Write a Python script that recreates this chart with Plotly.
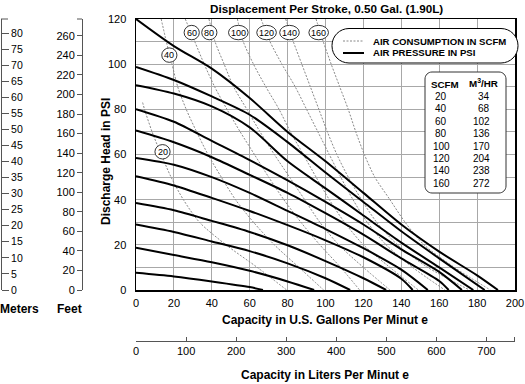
import plotly.graph_objects as go

# ---------------- data ----------------
# Air pressure curves (solid): capacity (US GPM) vs discharge head (PSI)
p10_gpm = [0, 20, 40, 60, 67]
p10_psi = [7.6, 6.0, 3.8, 1.3, 0]
p20_gpm = [0, 20, 40, 60, 80, 94]
p20_psi = [18.7, 15.5, 12.3, 8.5, 3.8, 0]
p30_gpm = [0, 20, 40, 60, 80, 100, 113]
p30_psi = [29, 25.7, 21.5, 17.2, 11.8, 5.2, 0]
p40_gpm = [0, 20, 40, 60, 80, 100, 120, 132]
p40_psi = [38.5, 35.3, 30.6, 25.7, 19.8, 12.8, 5.2, 0]
p50_gpm = [0, 20, 40, 60, 80, 100, 120, 140, 146]
p50_psi = [50.4, 46.3, 40.8, 35, 28.7, 22, 14.5, 5, 0]
p60_gpm = [0, 20, 40, 60, 80, 100, 120, 140, 154]
p60_psi = [58.5, 55.5, 50, 43, 35, 27, 18.5, 9, 0]
p70_gpm = [0, 20, 40, 60, 80, 100, 120, 140, 160, 165]
p70_psi = [70.6, 65.4, 58.8, 51, 43, 34, 24.5, 14, 4, 0]
p80_gpm = [0, 20, 40, 60, 80, 100, 120, 140, 160, 172]
p80_psi = [80.1, 74.5, 66, 57.5, 48.5, 39, 29, 18, 8, 0]
p90_gpm = [0, 20, 40, 60, 80, 100, 120, 140, 160, 178]
p90_psi = [90.7, 87, 81.3, 72, 57, 45, 33, 21, 10, 0]
p100_gpm = [0, 20, 40, 60, 80, 100, 120, 140, 160, 184]
p100_psi = [98.8, 93, 85.7, 77.6, 65.5, 52, 39, 26, 14, 0]
p120_gpm = [0, 20, 40, 60, 80, 100, 120, 140, 160, 180, 191]
p120_psi = [120, 108, 98, 85, 70, 57, 43, 29, 17, 6.5, 0]

pressure_curves = [
    (p10_gpm, p10_psi), (p20_gpm, p20_psi), (p30_gpm, p30_psi), (p40_gpm, p40_psi),
    (p50_gpm, p50_psi), (p60_gpm, p60_psi), (p70_gpm, p70_psi), (p80_gpm, p80_psi),
    (p90_gpm, p90_psi), (p100_gpm, p100_psi), (p120_gpm, p120_psi),
]

# Air consumption curves (dotted): SCFM
air_psi = [120, 110, 100, 90, 80, 70, 60, 50, 40, 30, 20, 10, 0]
s20_psi = [83, 80, 70, 60, 50, 40, 30, 20, 10, 0]
s20_gpm = [3.5, 4.5, 8.5, 13.3, 18.5, 25, 33.5, 47.5, 64, 79.5]
s40_gpm = [13.3, 16, 19, 22, 26.5, 32, 38, 45, 52.5, 62, 73, 86, 99]
s60_gpm = [26, 31, 36, 41.5, 48, 55, 62.5, 70, 78, 87, 97, 108, 118]
s80_gpm = [38.5, 41.7, 46.5, 51.5, 58.5, 65.5, 73, 81, 89, 97, 107, 120, 134]
s100_gpm = [53.5, 56.6, 62, 68.5, 75.5, 81.5, 88.3, 95, 102, 110, 120, 134, 149]
s120_gpm = [66, 70.7, 77, 84, 90, 96, 102, 108, 114.5, 122, 132, 146, 163]
s140_gpm = [79, 83, 87.5, 92, 96.5, 101, 106, 112, 119, 127, 138, 154, 176]
s160_gpm = [95, 98.8, 103, 107.5, 112, 116, 120.5, 126, 134, 142, 152, 168, 187]

air_curves = [
    (s20_gpm, s20_psi), (s40_gpm, air_psi), (s60_gpm, air_psi), (s80_gpm, air_psi),
    (s100_gpm, air_psi), (s120_gpm, air_psi), (s140_gpm, air_psi), (s160_gpm, air_psi),
]

# labels on the SCFM curves (text, gpm, psi)
scfm_labels = ["20", "40", "60", "80", "100", "120", "140", "160"]
scfm_label_gpm = [14.0, 17.6, 29.4, 38.7, 54.0, 68.9, 81.0, 96.4]
scfm_label_psi = [61.2, 104.0, 114.0, 114.0, 114.0, 114.0, 114.0, 114.0]

# conversion table
table_scfm = ["20", "40", "60", "80", "100", "120", "140", "160"]
table_m3hr = ["34", "68", "102", "136", "170", "204", "238", "272"]

x_ticks = [0, 20, 40, 60, 80, 100, 120, 140, 160, 180, 200]
y_ticks = [0, 20, 40, 60, 80, 100, 120]
liter_ticks = [0, 100, 200, 300, 400, 500, 600, 700]
feet_ticks = list(range(0, 261, 20))
meter_ticks = list(range(0, 81, 5))

GPM_MAX = 200
PSI_MAX = 120
L_PER_GAL = 3.785
FT_PER_PSI = 2.31
M_PER_PSI = 0.703

# ---------------- layout geometry (pixels) ----------------
W, H = 525, 384
PAPER_L, PAPER_R, PAPER_T, PAPER_B = 1, 515, 19, 341
PLOT_L, PLOT_B = 136, 290


def px(x):
    return (x - PAPER_L) / (PAPER_R - PAPER_L)


def py(y):
    return (PAPER_B - y) / (PAPER_B - PAPER_T)


def gx(g):  # gpm -> pixel
    return PLOT_L + g / GPM_MAX * (PAPER_R - PLOT_L)


def gy(p):  # psi -> pixel
    return PLOT_B - p / PSI_MAX * (PLOT_B - PAPER_T)


def rrect(x0, y0, x1, y1, r):
    k = 0.5523 * r
    s = f"M{px(x0 + r)},{py(y0)} L{px(x1 - r)},{py(y0)} "
    s += f"C{px(x1 - r + k)},{py(y0)} {px(x1)},{py(y0 + r - k)} {px(x1)},{py(y0 + r)} "
    s += f"L{px(x1)},{py(y1 - r)} "
    s += f"C{px(x1)},{py(y1 - r + k)} {px(x1 - r + k)},{py(y1)} {px(x1 - r)},{py(y1)} "
    s += f"L{px(x0 + r)},{py(y1)} "
    s += f"C{px(x0 + r - k)},{py(y1)} {px(x0)},{py(y1 - r + k)} {px(x0)},{py(y1 - r)} "
    s += f"L{px(x0)},{py(y0 + r)} "
    s += f"C{px(x0)},{py(y0 + r - k)} {px(x0 + r - k)},{py(y0)} {px(x0 + r)},{py(y0)} Z"
    return s


FONT = "Liberation Sans, Arial, sans-serif"
GRID = "#a8a8a8"
DOT = "#888888"
AX2 = "#555555"

fig = go.Figure()

for g, p in air_curves:
    fig.add_trace(go.Scatter(x=g, y=p, mode="lines",
                             line=dict(color=DOT, width=1, dash="2px,1.5px", shape="spline", smoothing=0.8),
                             hoverinfo="skip", showlegend=False))
for g, p in pressure_curves:
    fig.add_trace(go.Scatter(x=g, y=p, mode="lines", line=dict(color="black", width=2, shape="spline", smoothing=0.8),
                             hoverinfo="skip", showlegend=False))

# empty traces that activate the secondary axes
fig.add_trace(go.Scatter(x=[], y=[], xaxis="x2", yaxis="y", showlegend=False))
fig.add_trace(go.Scatter(x=[], y=[], xaxis="x", yaxis="y2", showlegend=False))
fig.add_trace(go.Scatter(x=[], y=[], xaxis="x", yaxis="y3", showlegend=False))

xdom = [px(PLOT_L), 1]
ydom = [py(PLOT_B), 1]
tickfont = dict(family=FONT, size=11, color="black")

fig.update_layout(
    width=W, height=H,
    margin=dict(l=PAPER_L, r=W - PAPER_R, t=PAPER_T, b=H - PAPER_B, pad=0, autoexpand=False),
    paper_bgcolor="white", plot_bgcolor="white",
    showlegend=False, hovermode=False,
    xaxis=dict(domain=xdom, range=[0, GPM_MAX], tickvals=x_ticks, showgrid=True, gridcolor=GRID, gridwidth=1,
               showline=True, mirror=True, linecolor="black", linewidth=1.5, zeroline=False, automargin=False,
               ticks="outside", ticklen=2, tickcolor="rgba(0,0,0,0)", tickfont=tickfont, fixedrange=True),
    yaxis=dict(domain=ydom, range=[0, PSI_MAX], tickvals=y_ticks, showgrid=True, gridcolor=GRID, gridwidth=1,
               minor=dict(dtick=10, showgrid=True, gridcolor=GRID, gridwidth=1),
               showline=True, mirror=True, linecolor="black", linewidth=1.5, zeroline=False, automargin=False,
               ticks="outside", ticklen=6, tickcolor="rgba(0,0,0,0)", tickfont=tickfont, fixedrange=True),
    xaxis2=dict(domain=xdom, range=[0, GPM_MAX * L_PER_GAL], tickvals=liter_ticks, overlaying="x", anchor="free",
                position=0, side="bottom", showline=True, linecolor=AX2, linewidth=1, ticks="inside", ticklen=4,
                tickcolor=AX2, showgrid=False, zeroline=False, automargin=False, tickfont=tickfont),
    yaxis2=dict(domain=ydom, range=[0, PSI_MAX * FT_PER_PSI], tickvals=feet_ticks, overlaying="y", anchor="free",
                position=px(82), side="left", showline=True, linecolor=AX2, linewidth=1, ticks="outside",
                ticklen=5, tickcolor=AX2, showgrid=False, zeroline=False, automargin=False, tickfont=tickfont),
    yaxis3=dict(domain=ydom, range=[0, PSI_MAX * M_PER_PSI], tickvals=meter_ticks, overlaying="y", anchor="free",
                position=0, side="right", showline=True, linecolor=AX2, linewidth=1, ticks="outside",
                ticklen=7, tickcolor=AX2, showgrid=False, zeroline=False, automargin=False,
                tickfont=dict(family=FONT, size=10.5, color="black")),
)

shapes = []
annotations = []

# end stubs of the secondary axes
shapes.append(dict(type="line", xref="paper", yref="paper", x0=px(77), x1=px(82), y0=py(PAPER_T), y1=py(PAPER_T),
                   line=dict(color=AX2, width=1)))
shapes.append(dict(type="line", xref="paper", yref="paper", x0=px(1), x1=px(8), y0=py(PAPER_T), y1=py(PAPER_T),
                   line=dict(color=AX2, width=1)))
shapes.append(dict(type="line", xref="paper", yref="paper", x0=px(514.5), x1=px(514.5), y0=py(337), y1=py(341),
                   line=dict(color=AX2, width=1)))

# SCFM curve labels
for t, g, p in zip(scfm_labels, scfm_label_gpm, scfm_label_psi):
    cx, cy = gx(g), gy(p)
    hw = 9.8 if len(t) == 3 else 7.6
    hh = 7.2
    shapes.append(dict(type="circle", xref="paper", yref="paper", x0=px(cx - hw), x1=px(cx + hw),
                       y0=py(cy + hh), y1=py(cy - hh), fillcolor="white", line=dict(color="black", width=0.8)))
    annotations.append(dict(text=t, x=px(cx), y=py(cy), xref="paper", yref="paper", showarrow=False,
                            xanchor="center", yanchor="middle", font=dict(family=FONT, size=9, color="black")))

# legend pill
shapes.append(dict(type="path", xref="paper", yref="paper", path=rrect(332, 28.5, 518, 63, 17),
                   fillcolor="white", line=dict(color="black", width=1)))
shapes.append(dict(type="line", xref="paper", yref="paper", x0=px(343), x1=px(364), y0=py(41), y1=py(41),
                   line=dict(color=DOT, width=1, dash="2px,1.5px")))
shapes.append(dict(type="line", xref="paper", yref="paper", x0=px(343), x1=px(364), y0=py(53), y1=py(53),
                   line=dict(color="black", width=2)))
for txt, yy in [("AIR CONSUMPTION IN SCFM", 41), ("AIR PRESSURE IN PSI", 53)]:
    annotations.append(dict(text="<b>" + txt + "</b>", x=px(371), y=py(yy), xref="paper", yref="paper",
                            showarrow=False, xanchor="left", yanchor="middle",
                            font=dict(family=FONT, size=9.6, color="black")))

# table box
shapes.append(dict(type="path", xref="paper", yref="paper", path=rrect(425, 72, 506, 193, 7),
                   fillcolor="white", line=dict(color="#333", width=1)))
annotations.append(dict(text="<b>SCFM</b>", x=px(445), y=py(84), xref="paper", yref="paper", showarrow=False,
                        xanchor="center", yanchor="middle", font=dict(family=FONT, size=9.8, color="black")))
annotations.append(dict(text="<b>M<sup>3</sup>/HR</b>", x=px(483), y=py(83), xref="paper", yref="paper",
                        showarrow=False, xanchor="center", yanchor="middle",
                        font=dict(family=FONT, size=9.8, color="black")))
for i, (a, b) in enumerate(zip(table_scfm, table_m3hr)):
    yy = 96.5 + i * 12.4
    annotations.append(dict(text=a, x=px(441), y=py(yy), xref="paper", yref="paper", showarrow=False,
                            xanchor="center", yanchor="middle", font=dict(family=FONT, size=10, color="black")))
    annotations.append(dict(text=b, x=px(492), y=py(yy), xref="paper", yref="paper", showarrow=False,
                            xanchor="right", yanchor="middle", font=dict(family=FONT, size=10, color="black")))


def lab(text, x, y, size=12, angle=0):
    annotations.append(dict(text="<b>" + text + "</b>", x=px(x), y=py(y), xref="paper", yref="paper",
                            showarrow=False, xanchor="center", yanchor="middle", textangle=angle,
                            font=dict(family=FONT, size=size, color="black")))


lab("Displacement Per Stroke, 0.50 Gal. (1.90L)", 326, 8, 11.7)
lab("Capacity in U.S. Gallons Per Minut e", 325, 320, 12)
lab("Capacity in Liters Per Minut e", 325, 375, 12)
lab("Discharge Head in PSI", 106, 162, 12, -90)
lab("Meters", 19, 309, 12)
lab("Feet", 69, 309, 12)

fig.update_layout(shapes=shapes, annotations=annotations)
fig.write_html("out.html", config={"displayModeBar": False, "staticPlot": True},
               post_script="document.body.style.margin='0';document.body.style.padding='0';")
